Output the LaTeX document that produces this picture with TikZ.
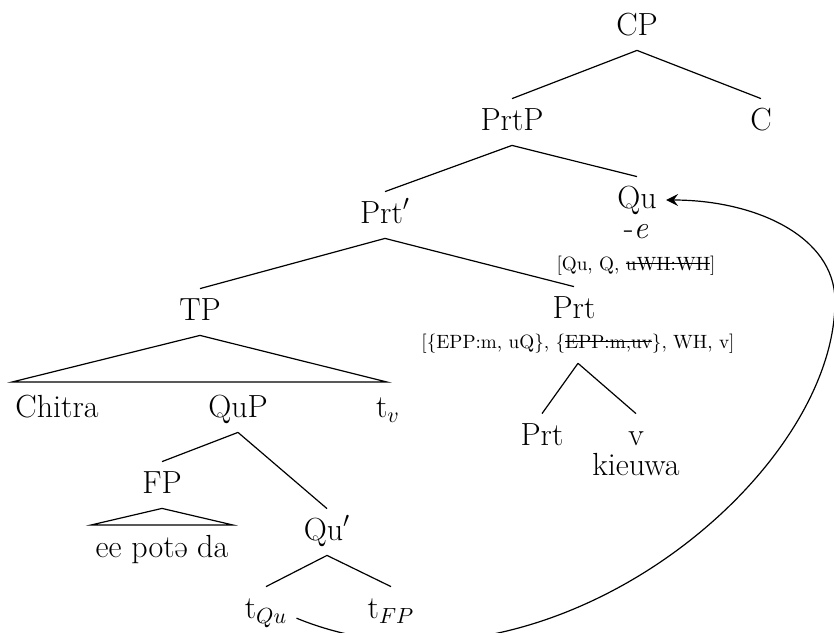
\documentclass[tikz,border=0pt]{standalone}
\usepackage{fontspec}
\usetikzlibrary{arrows.meta}
\newcommand{\BIGT}{\fontsize{16}{18}\selectfont}
\newcommand{\SMALLT}{\fontsize{9.6}{11}\selectfont}
\newsavebox{\strkbox}
\newcommand{\strk}[1]{\sbox{\strkbox}{#1}\rlap{\rule[0.32em]{\wd\strkbox}{0.55pt}}\usebox{\strkbox}}

\begin{document}
\begin{tikzpicture}[
    x=0.5pt, y=-0.5pt,
    >={Stealth[length=6pt,width=6pt,inset=2.2pt]},
    edge/.style={draw=black, line width=0.6pt},
    lbl/.style={font=\BIGT, text height=11pt, text depth=3pt, inner sep=4.5pt},
    feat/.style={font=\SMALLT, text height=7.5pt, text depth=2.4pt, inner sep=5pt},
    move/.style={draw=black, line width=0.6pt, ->},
  ]
  \useasboundingbox (0,0) rectangle (834,632);

  %% ================= upper spine =================
  \node[lbl] (cp)     at (637,27)  {CP};
  \node[lbl] (prtp)   at (512,122) {PrtP};
  \node[lbl] (c)      at (761,122) {C};
  \node[lbl] (prtbar) at (385,215) {Prt$'$};
  \node[lbl] (qu)     at (637,200) {Qu};
  \node[lbl] (qusuf)  at (636,230) {-\textit{e}};
  \node[feat] (qufeat) at (636,265) {[Qu, Q, \strk{uWH:WH}]};

  \draw[edge] (cp.south) -- (prtp.north);
  \draw[edge] (cp.south) -- (c.north);
  \draw[edge] (prtp.south) -- (prtbar.north);
  \draw[edge] (prtp.south) -- (qu.north);

  %% ================= TP and the Prt head =================
  \node[lbl] (tp)  at (200,312) {TP};
  \node[lbl] (prt) at (574,310) {Prt};
  \node[feat] (prtfeat) at (578,343) {[\{EPP:m, uQ\}, \{\strk{EPP:m,uv}\}, WH, v]};

  \draw[edge] (prtbar.south) -- (tp.north);
  \draw[edge] (prtbar.south) -- (prt.north);

  \node[lbl] (chitra) at (57,409)  {Chitra};
  \node[lbl] (qup)    at (238,409) {QuP};
  \node[lbl] (tv)     at (388,409) {t$_v$};

  % roof over the whole TP
  \coordinate (tpL) at (12,382);
  \coordinate (tpR) at (387,382);
  \draw[edge] (tp.south) -- (tpL) -- (tpR) -- cycle;

  \node[lbl] (prtlow) at (542,437) {Prt};
  \node[lbl, text depth=0pt] (v) at (636,434) {v};
  \node[lbl] (kieuwa) at (636,467) {kieuwa};

  \draw[edge] (prtfeat.south) -- (prtlow.north);
  \draw[edge] (prtfeat.south) -- (v.north);

  %% ================= inside QuP =================
  \node[lbl] (fp)    at (162,485) {FP};
  \node[lbl] (qubar) at (327,532) {Qu$'$};
  \node[lbl] (eepd)  at (162,549) {ee potə da};

  \draw[edge] (qup.south) -- (fp.north);
  \draw[edge] (qup.south) -- (qubar.north);

  \coordinate (fpL) at (91,525);
  \coordinate (fpR) at (233,525);
  \draw[edge] (fp.south) -- (fpL) -- (fpR) -- cycle;

  \node[lbl] (tqu) at (266,610) {t$_{Qu}$};
  \node[lbl] (tfp) at (391,610) {t$_{FP}$};

  \draw[edge] (qubar.south) -- (tqu.north);
  \draw[edge] (qubar.south) -- (tfp.north);

  % head movement of the trace up to Qu
  \draw[move] (tqu.-15) .. controls (540,718) and (836,480) .. (835,300)
                        .. controls (834,236) and (755,200) .. (qu.east);

\end{tikzpicture}
\end{document}
